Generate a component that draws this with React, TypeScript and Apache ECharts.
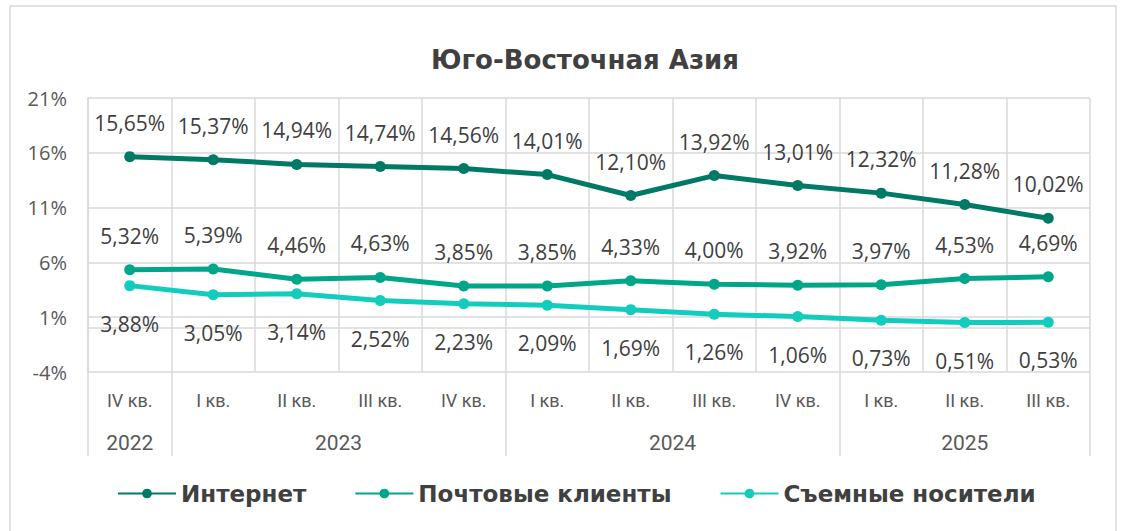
import React, { useEffect, useRef } from "react";
import * as echarts from "echarts";

const quarters = ["IV кв.", "I кв.", "II кв.", "III кв.", "IV кв.", "I кв.", "II кв.", "III кв.", "IV кв.", "I кв.", "II кв.", "III кв."];
const years = ["2022", "2023", "2024", "2025"];
const yearCenters = [0.5, 3, 7, 10.5];
const yearBounds = [0, 1, 5, 9, 12];

const internet = [15.65, 15.37, 14.94, 14.74, 14.56, 14.01, 12.1, 13.92, 13.01, 12.32, 11.28, 10.02];
const mail = [5.32, 5.39, 4.46, 4.63, 3.85, 3.85, 4.33, 4.0, 3.92, 3.97, 4.53, 4.69];
const removable = [3.88, 3.05, 3.14, 2.52, 2.23, 2.09, 1.69, 1.26, 1.06, 0.73, 0.51, 0.53];

const seriesNames = ["Интернет", "Почтовые клиенты", "Съемные носители"];
const colors = ["#007A64", "#00A68A", "#12CDBE"];

const fmt = (v: number) => v.toFixed(2).replace(".", ",") + "%";

export default function App() {
  const ref = useRef<HTMLDivElement>(null);
  useEffect(() => {
    document.body.style.margin = "0";
    const chart = echarts.init(ref.current!, null, { renderer: "svg" });
    const grid = "#d9d9d9";
    const mkSeries = (name: string, data: number[], color: string, pos: "top" | "bottom") => ({
      name,
      type: "line",
      data,
      xAxisIndex: 0,
      yAxisIndex: 0,
      symbol: "circle",
      symbolSize: 11,
      lineStyle: { width: 5, color },
      itemStyle: { color },
      label: {
        show: true,
        position: pos,
        distance: pos === "top" ? 18 : 22,
        formatter: (p: any) => fmt(p.value),
        fontFamily: "Open Sans",
        fontSize: 21,
        color: "#404040",
      },
    });
    chart.setOption({
      animation: false,
      graphic: [
        {
          type: "rect",
          shape: { x: 10, y: 6, width: 1106, height: 540 },
          style: { fill: "none", stroke: grid, lineWidth: 1.5 },
          silent: true,
        },
      ],
      title: {
        text: "Юго-Восточная Азия",
        left: 580,
        textAlign: "center",
        top: 42,
        textStyle: { fontFamily: "DejaVu Sans", fontWeight: "bold", fontSize: 26, color: "#404040" },
      },
      legend: {
        data: seriesNames,
        bottom: 21,
        left: 112,
        itemWidth: 58,
        itemHeight: 12,
        itemGap: 48,
        textStyle: { fontFamily: "DejaVu Sans", fontWeight: "bold", fontSize: 23, color: "#404040" },
      },
      grid: { left: 88, right: 32, top: 98, bottom: 159, containLabel: false },
      xAxis: [
        {
          type: "category",
          data: quarters,
          boundaryGap: true,
          axisLine: { show: true, lineStyle: { color: grid, width: 1.5 } },
          axisTick: { show: false },
          splitLine: { show: true, interval: 0, lineStyle: { color: grid, width: 1.5 } },
          axisLabel: { interval: 0, margin: 19, fontFamily: "Roboto", fontSize: 18, color: "#595959" },
        },
        {
          type: "value",
          min: 0,
          max: 12,
          position: "bottom",
          axisLine: { show: false },
          splitLine: { show: false },
          axisTick: {
            show: true,
            customValues: yearBounds,
            length: 84,
            inside: false,
            lineStyle: { color: grid, width: 1.5 },
          },
          axisLabel: {
            show: true,
            customValues: yearCenters,
            margin: 60,
            formatter: (v: number) => years[yearCenters.indexOf(v)] ?? "",
            fontFamily: "Roboto",
            fontSize: 21,
            color: "#595959",
          },
        },
      ],
      yAxis: {
        type: "value",
        min: -4,
        max: 21,
        interval: 5,
        axisLine: { show: true, lineStyle: { color: grid, width: 1.5 } },
        axisTick: { show: false },
        splitLine: { show: true, lineStyle: { color: grid, width: 1.5 } },
        axisLabel: {
          margin: 21,
          formatter: (v: number) => v + "%",
          fontFamily: "Open Sans",
          fontSize: 20,
          color: "#595959",
        },
      },
      series: [
        mkSeries(seriesNames[0], internet, colors[0], "top"),
        mkSeries(seriesNames[1], mail, colors[1], "top"),
        mkSeries(seriesNames[2], removable, colors[2], "bottom"),
      ],
    });
    return () => chart.dispose();
  }, []);
  return <div ref={ref} style={{ width: 1122, height: 531 }} />;
}
